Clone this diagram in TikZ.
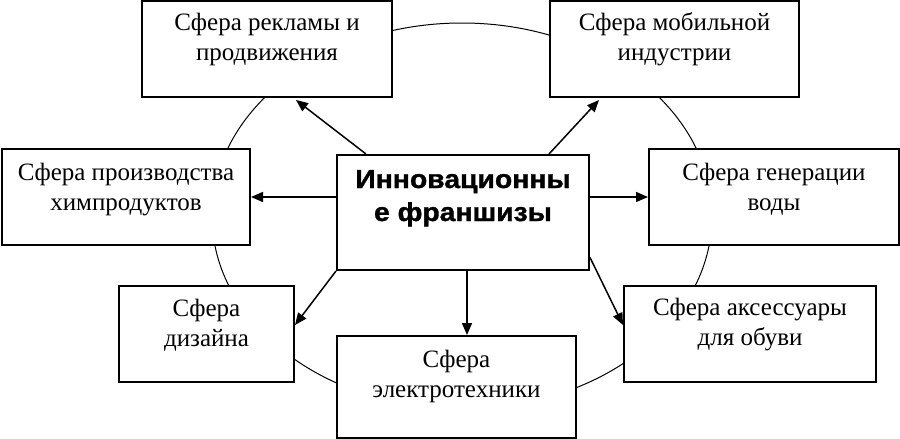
\documentclass[tikz,border=0pt]{standalone}
\usepackage{fontspec}
\setmainfont{Liberation Serif}
\newfontfamily\hdfont[BoldFeatures={FakeStretch=1.09,FakeBold=1.2}]{Liberation Sans}
\usetikzlibrary{arrows.meta}
\tikzset{
  box/.style={draw, line width=2pt, fill=white, inner sep=0pt},
  lbl/.style={font=\fontsize{25}{30}\selectfont, align=center, inner sep=0pt, anchor=base},
  hdl/.style={font=\hdfont\bfseries\fontsize{26}{33}\selectfont, align=center, inner sep=0pt, anchor=base},
  arr/.style={line width=1.5pt, -{Triangle[length=12pt,width=10pt]}},
  ring/.style={line width=1pt}
}
\begin{document}
\begin{tikzpicture}[x=1pt,y=-1pt]
\useasboundingbox (0,0) rectangle (900,439);
\draw[ring] (462,216) ellipse [x radius=250pt, y radius=193pt];
\node[box, minimum width=250pt, minimum height=96pt] (b1) at (267,49) {};
\node[box, minimum width=249pt, minimum height=96pt] (b2) at (674.5,49) {};
\node[box, minimum width=248pt, minimum height=96pt] (b3) at (126,197) {};
\node[box, minimum width=252pt, minimum height=115pt] (c) at (463,212.5) {};
\node[box, minimum width=250pt, minimum height=96pt] (b4) at (774,197) {};
\node[box, minimum width=175pt, minimum height=96pt] (b5) at (206.5,334) {};
\node[box, minimum width=239pt, minimum height=102pt] (b6) at (456.5,387) {};
\node[box, minimum width=252pt, minimum height=96pt] (b7) at (750,334) {};
\node[lbl] (t1) at ([yshift=-60pt]b1.north) {Сфера рекламы и\\продвижения};
\node[lbl] (t2) at ([yshift=-60pt]b2.north) {Сфера мобильной\\индустрии};
\node[lbl] (t3) at ([yshift=-62pt]b3.north) {Сфера производства\\химпродуктов};
\node[lbl] (t4) at ([yshift=-62pt]b4.north) {Сфера генерации\\воды};
\node[lbl] (t5) at ([yshift=-61pt]b5.north) {Сфера\\дизайна};
\node[lbl] (t6) at ([yshift=-62pt]b6.north) {Сфера\\электротехники};
\node[lbl] (t7) at ([yshift=-60pt]b7.north) {Сфера аксессуары\\для обуви};
\node[hdl] (tc) at ([yshift=-67pt]c.north) {Инновационны\\е франшизы};
\draw[arr] ([xshift=30pt]c.north west) -- ([xshift=155pt,yshift=-2pt]b1.south west);
\draw[arr] ([xshift=213pt]c.north west) -- ([xshift=50pt,yshift=-2pt]b2.south west);
\draw[arr] (b3.east -| c.west) -- (b3.east);
\draw[arr] (b4.west -| c.east) -- (b4.west);
\draw[arr] (c.south west) -- ([yshift=9pt]b5.east);
\draw[arr] ([xshift=4pt]c.south) -- ([xshift=4pt]c.south |- b6.north);
\draw[arr] ([yshift=-45pt]c.east) -- ([yshift=9pt]b7.west);
\end{tikzpicture}
\end{document}
